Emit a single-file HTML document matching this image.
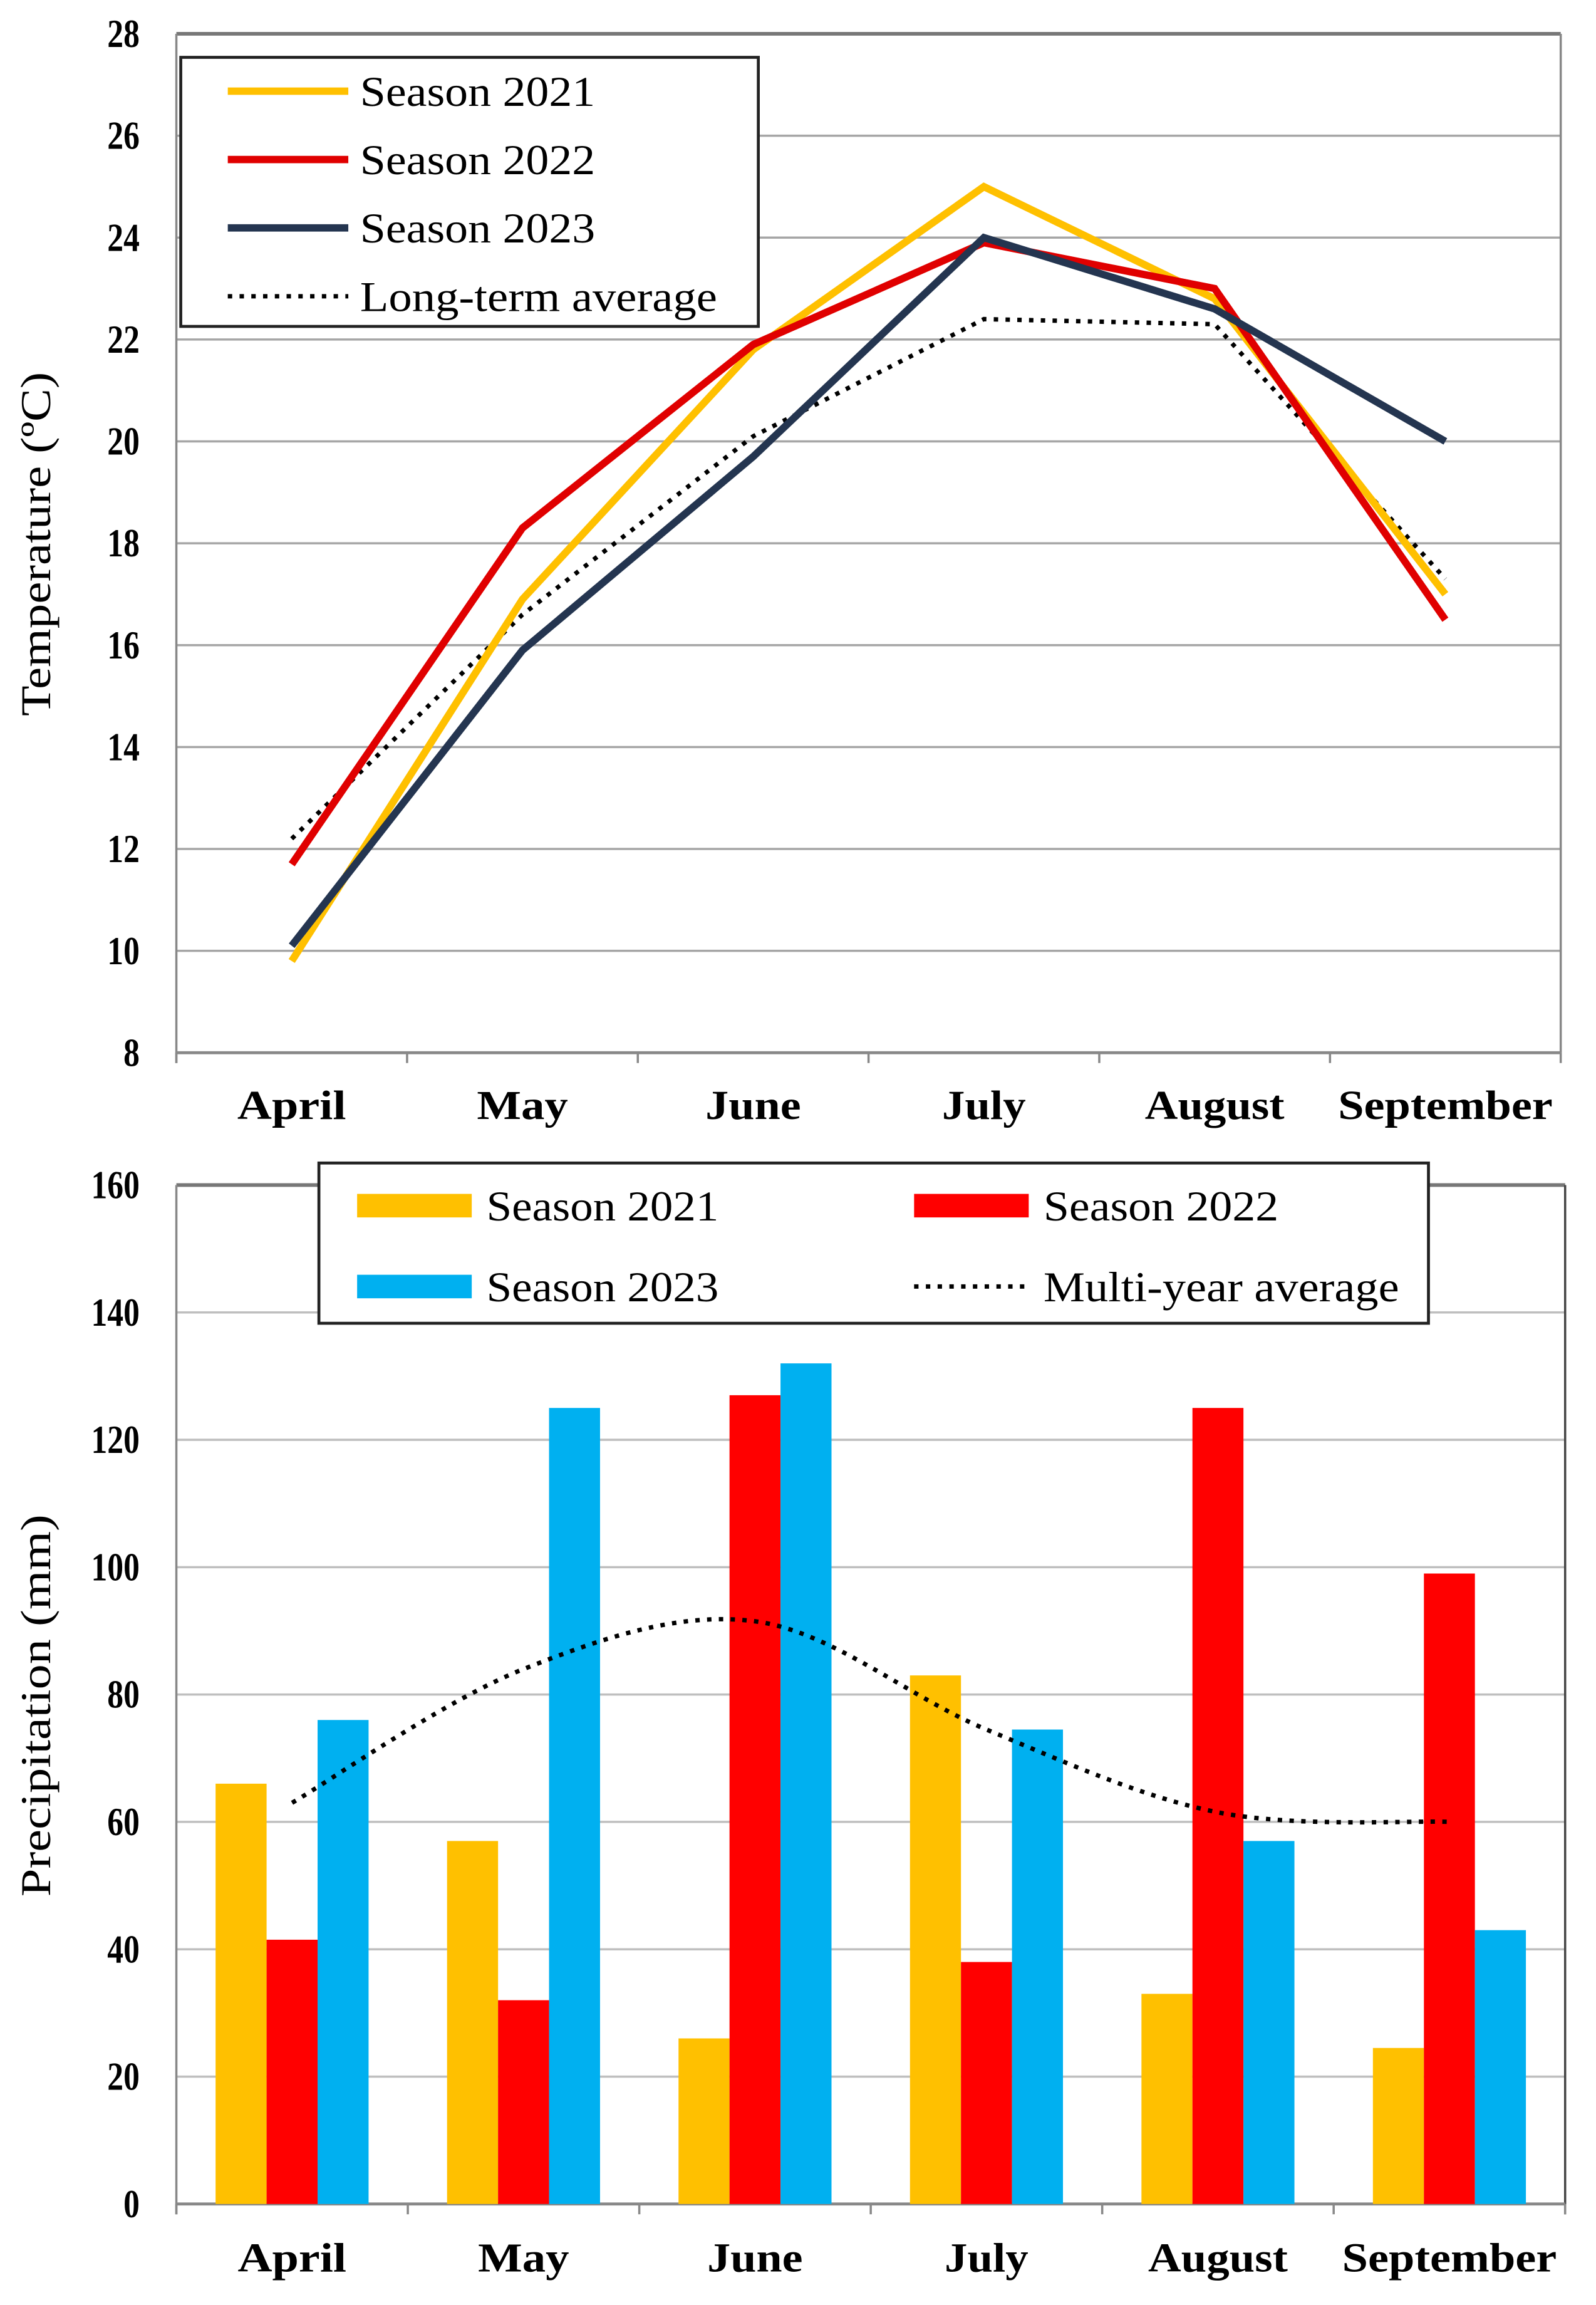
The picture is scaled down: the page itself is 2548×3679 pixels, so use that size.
<!DOCTYPE html>
<html><head><meta charset="utf-8"><style>
html,body{margin:0;padding:0;background:#fff}
svg{display:block}
text{font-family:"Liberation Serif",serif;fill:#000}
</style></head><body>
<svg id="svg" width="2548" height="3679" viewBox="0 0 1086 1567.7" preserveAspectRatio="none" xmlns="http://www.w3.org/2000/svg">
<rect x="0" y="0" width="1090" height="1570" fill="#fff"/>
<g id="topchart"></g>
<g id="botchart"></g>
</svg>
<script>
const months = ["April","May","June","July","August","September"];
const t2021 = [9.8,16.9,21.8,25.0,22.8,17.0];
const t2022 = [11.7,18.3,21.9,23.9,23.0,16.5];
const t2023 = [10.1,15.9,19.7,24.0,22.6,20.0];
const tAvg = [12.2,16.6,20.1,22.4,22.3,17.3];
const tTicks = [8,10,12,14,16,18,20,22,24,26,28];
const p2021 = [66,57,26,83,33,24.5];
const p2022 = [41.5,32,127,38,125,99];
const p2023 = [76,125,132,74.5,57,43];
const pAvg = [63,84,91.5,74.5,61.5,60];
const pTicks = [0,20,40,60,80,100,120,140,160];

const NS="http://www.w3.org/2000/svg";
function mk(parent,tag,attrs,txt){const e=document.createElementNS(NS,tag);for(const k in attrs)e.setAttribute(k,attrs[k]);if(txt!==undefined)e.textContent=String(txt);parent.appendChild(e);return e;}
function txt(parent,x,y,s,size,len,anchor,bold,transform){
  const a={x:x,y:y,'font-size':size,'text-anchor':anchor||'start',textLength:len,lengthAdjust:'spacingAndGlyphs'};
  if(bold)a['font-weight']='bold';
  if(transform)a.transform=transform;
  return mk(parent,'text',a,s);
}
const monthW={April:74,May:62,June:65,July:57,August:95,September:146};
const X0=120,X1=1062,CW=(X1-X0)/6;
const cx=i=>X0+CW*(i+0.5);
const BX1=1065,BCW=(BX1-X0)/6;
const bx=i=>X0+BCW*(i+0.5);

// ---------- Temperature ----------
const topG=document.getElementById('topchart');
const ty=v=>716-(v-8)*(716-23)/20;
tTicks.forEach(v=>{
  if(v>8&&v<28){const g=mk(topG,'line',{x1:X0,x2:X1,y1:ty(v),y2:ty(v),stroke:'#a6a6a6','stroke-width':1.5});
  
  }
  const t=txt(topG,95,ty(v)+9,v,27,String(v).length*11,'end',true);
  
  
});
mk(topG,'line',{x1:X0,x2:X1,y1:ty(28),y2:ty(28),stroke:'#777','stroke-width':2.5});
mk(topG,'line',{x1:X0,x2:X0,y1:ty(28),y2:ty(8)+7,stroke:'#888','stroke-width':1.5});
mk(topG,'line',{x1:X1,x2:X1,y1:ty(28),y2:ty(8),stroke:'#888','stroke-width':1.5});
mk(topG,'line',{x1:X0,x2:X1,y1:716,y2:716,stroke:'#888','stroke-width':2});
for(let i=0;i<=6;i++)mk(topG,'line',{x1:X0+CW*i,x2:X0+CW*i,y1:716,y2:723,stroke:'#888','stroke-width':1.5});
months.forEach((m,i)=>{const t=txt(topG,cx(i),761,m,28,monthW[m],'middle',true);
  
  });
const ta=txt(topG,0,0,'Temperature (ºC)',29,234,'middle',false,'translate(34,370) rotate(-90)');


function tline(arr,col,name,dash){
  const p=mk(topG,'polyline',{points:arr.map((v,i)=>cx(i)+','+ty(v)).join(' '),fill:'none',stroke:col,'stroke-width':dash?3:5,'stroke-dasharray':dash||'none','stroke-linejoin':'miter'});
  
  
}
tline(tAvg,'#000','line-long-term-average','3 5');
tline(t2021,'#FFC000','line-season-2021');
tline(t2022,'#E00000','line-season-2022');
tline(t2023,'#243550','line-season-2023');
const tl=mk(topG,'g',{});


mk(tl,'rect',{x:123,y:39,width:393,height:183,fill:'#fff',stroke:'#222','stroke-width':2});
[['Season 2021','#FFC000',160],['Season 2022','#E00000',160],['Season 2023','#243550',160],['Long-term average','#000',243]].forEach((e,i)=>{
  const y=62+i*46.5;
  const l=mk(tl,'line',{x1:155,x2:237,y1:y,y2:y,stroke:e[1],'stroke-width':i==3?3:5,'stroke-dasharray':i==3?'3 5':'none'});
  
  
  const t=txt(tl,245,y+10,e[0],29,e[2],'start',false);
  
  
});

// ---------- Precipitation ----------
const botG=document.getElementById('botchart');
const py=v=>1499-v*(1499-806)/160;
pTicks.forEach(v=>{
  if(v>0){const g=mk(botG,'line',{x1:X0,x2:BX1,y1:py(v),y2:py(v),stroke:v==160?'#777':'#bfbfbf','stroke-width':v==160?2.5:1.5});
  
  }
  const t=txt(botG,95,py(v)+9,v,27,String(v).length*11,'end',true);
  
  
});
mk(botG,'line',{x1:X0,x2:X0,y1:py(160),y2:1506,stroke:'#888','stroke-width':1.5});
mk(botG,'line',{x1:BX1,x2:BX1,y1:py(160),y2:1506,stroke:'#444','stroke-width':1.5});
mk(botG,'line',{x1:X0,x2:BX1,y1:1499,y2:1499,stroke:'#888','stroke-width':2});
for(let i=0;i<=6;i++)mk(botG,'line',{x1:X0+BCW*i,x2:X0+BCW*i,y1:1499,y2:1506,stroke:'#888','stroke-width':1.5});
const BW=34.7;
[[p2021,'#FFC000','bar-2021'],[p2022,'#FF0000','bar-2022'],[p2023,'#00B0F0','bar-2023']].forEach((s,k)=>{
  s[0].forEach((v,i)=>{
    const r=mk(botG,'rect',{x:bx(i)+(k-1.5)*BW,y:py(v),width:BW,height:1499-py(v),fill:s[1]});
    
    
  });
});
(function(){
  const pts=pAvg.map((v,i)=>[bx(i),py(v)]);
  let d='M'+pts[0][0]+','+pts[0][1];
  for(let i=0;i<pts.length-1;i++){
    const p0=pts[Math.max(i-1,0)],p1=pts[i],p2=pts[i+1],p3=pts[Math.min(i+2,pts.length-1)];
    const c1=[p1[0]+(p2[0]-p0[0])/6,p1[1]+(p2[1]-p0[1])/6],c2=[p2[0]-(p3[0]-p1[0])/6,p2[1]-(p3[1]-p1[1])/6];
    d+=' C'+c1.join(',')+' '+c2.join(',')+' '+p2.join(',');
  }
  const p=mk(botG,'path',{d:d,fill:'none',stroke:'#000','stroke-width':3,'stroke-dasharray':'3 5'});
  
  
})();
months.forEach((m,i)=>{const t=txt(botG,bx(i),1545,m,28,monthW[m],'middle',true);
  
  });
const pa=txt(botG,0,0,'Precipitation (mm)',29,260,'middle',false,'translate(34,1160) rotate(-90)');


const bl=mk(botG,'g',{});


mk(bl,'rect',{x:217,y:791,width:755,height:109,fill:'#fff',stroke:'#222','stroke-width':2});
[['Season 2021','#FFC000',243,820,158],['Season 2022','#FF0000',622,820,160],['Season 2023','#00B0F0',243,875,158],['Multi-year average','#000',622,875,242]].forEach((e,i)=>{
  let s;
  if(i<3) s=mk(bl,'rect',{x:e[2],y:e[3]-8,width:78,height:16,fill:e[1]});
  else s=mk(bl,'line',{x1:e[2],x2:e[2]+78,y1:e[3],y2:e[3],stroke:'#000','stroke-width':3,'stroke-dasharray':'3 5'});
  
  
  const t=txt(bl,e[2]+88,e[3]+10,e[0],29,e[4],'start',false);
  
  
});
</script>
</body></html>
